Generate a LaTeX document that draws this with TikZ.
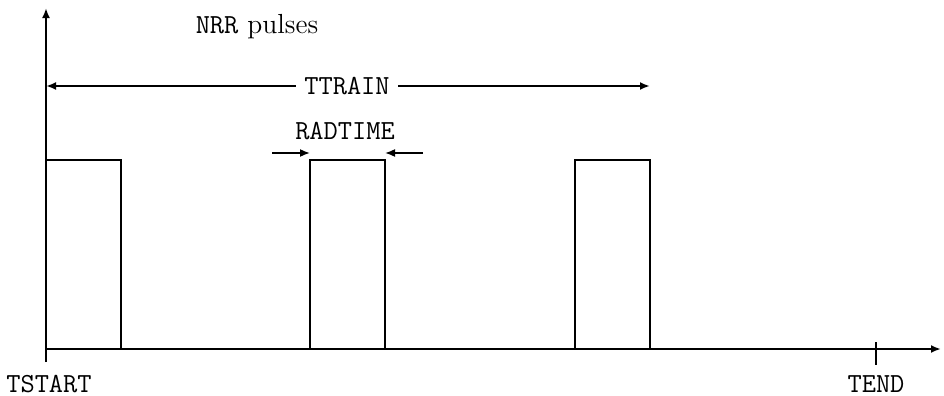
\documentclass[tikz,border=0pt]{standalone}
\usetikzlibrary{arrows.meta}
\begin{document}
\begin{tikzpicture}[x=0.5pt,y=-0.5pt,
  ln/.style={line width=1.2pt},
  arr/.style={line width=1.2pt,-{Latex[length=5pt,width=4pt]}},
  lbl/.style={font=\fontsize{13.8}{16}\selectfont\ttfamily, inner sep=0pt},
  rlbl/.style={font=\fontsize{13.8}{16}\selectfont, inner sep=0pt}]
\useasboundingbox (0,0) rectangle (944,396);
% axes
\coordinate (o) at (46,349);
\coordinate (obot) at (46,362);
\coordinate (ytop) at (46,8);
\coordinate (xend) at (941,349);
\draw[arr] (obot) -- (ytop);
\draw[arr] (o) -- (xend);
% TEND tick
\coordinate (t1) at (876,342);
\coordinate (t2) at (876,365);
\draw[ln] (t1) -- (t2);
% pulses
\draw[ln] (46,160) -- (121,160) -- (121,349);
\draw[ln] (310,349) -- (310,160) -- (385,160) -- (385,349);
\draw[ln] (575,349) -- (575,160) -- (650,160) -- (650,349);
% labels
\node[rlbl] (nrr) at (257,27) {\texttt{NRR} pulses};
\node[lbl, fill=white, inner xsep=4pt] (ttrain) at (347,86) {TTRAIN};
\coordinate (tl) at (46,86);
\coordinate (tr) at (650,86);
\draw[arr] (ttrain.west) -- (tl);
\draw[arr] (ttrain.east) -- (tr);
\node[lbl] (rad) at (345,131) {RADTIME};
\coordinate (ra1) at (272,153);
\coordinate (ra2) at (310,153);
\coordinate (rb1) at (423,153);
\coordinate (rb2) at (385,153);
\draw[arr,line width=0.8pt] (ra1) -- (ra2);
\draw[arr,line width=0.8pt] (rb1) -- (rb2);
\node[lbl] (tstart) at (49,384) {TSTART};
\node[lbl] (tend) at (876,384) {TEND};
\end{tikzpicture}
\end{document}
